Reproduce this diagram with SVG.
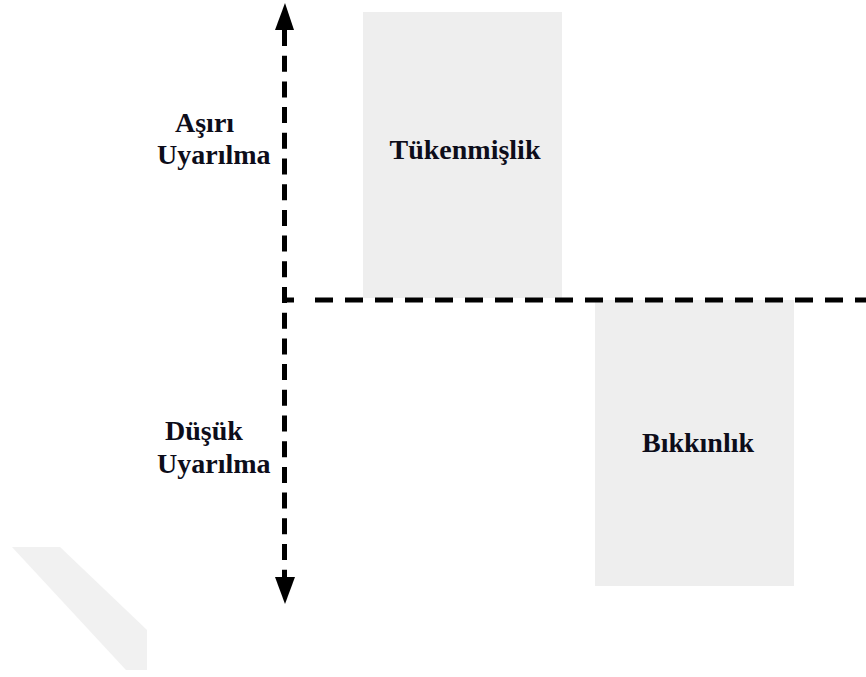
<svg xmlns="http://www.w3.org/2000/svg" width="866" height="677" viewBox="0 0 866 677">
  <style>
    .lbl { font-family: "Liberation Serif", "Times New Roman", serif; font-weight: bold; font-size: 28px; fill: #0d0d1a; }
    .box { fill: #eeeeee; }
    .dash { stroke: #000; stroke-width: 5; fill: none; }
  </style>
  <rect width="866" height="677" fill="#ffffff"/>
  <polygon points="12,547 60,547 147,630 147,670 126,670" fill="#f1f1f1"/>
  <g id="tukenmislik">
    <rect class="box" x="363" y="12" width="199" height="286"/>
    <text class="lbl" x="465" y="159" text-anchor="middle">Tükenmişlik</text>
  </g>
  <g id="bikkinlik">
    <rect class="box" x="595" y="300" width="199" height="286"/>
    <text class="lbl" x="698" y="452" text-anchor="middle">Bıkkınlık</text>
  </g>
  <g id="asiri-uyarilma">
    <text class="lbl" x="175" y="132">Aşırı</text>
    <text class="lbl" x="157" y="164">Uyarılma</text>
  </g>
  <g id="dusuk-uyarilma">
    <text class="lbl" x="165" y="440">Düşük</text>
    <text class="lbl" x="157" y="473">Uyarılma</text>
  </g>
  <g id="connectors">
    <line class="dash" x1="284.5" y1="30" x2="284.5" y2="577" stroke-dasharray="16 9.7"/>
    <polygon points="285,3 275,30 294,30" fill="#000"/>
    <polygon points="285,604 275,577 295,577" fill="#000"/>
    <line class="dash" x1="282" y1="300" x2="294" y2="300"/>
    <line class="dash" x1="315" y1="300" x2="866" y2="300" stroke-dasharray="18 12"/>
  </g>
</svg>
